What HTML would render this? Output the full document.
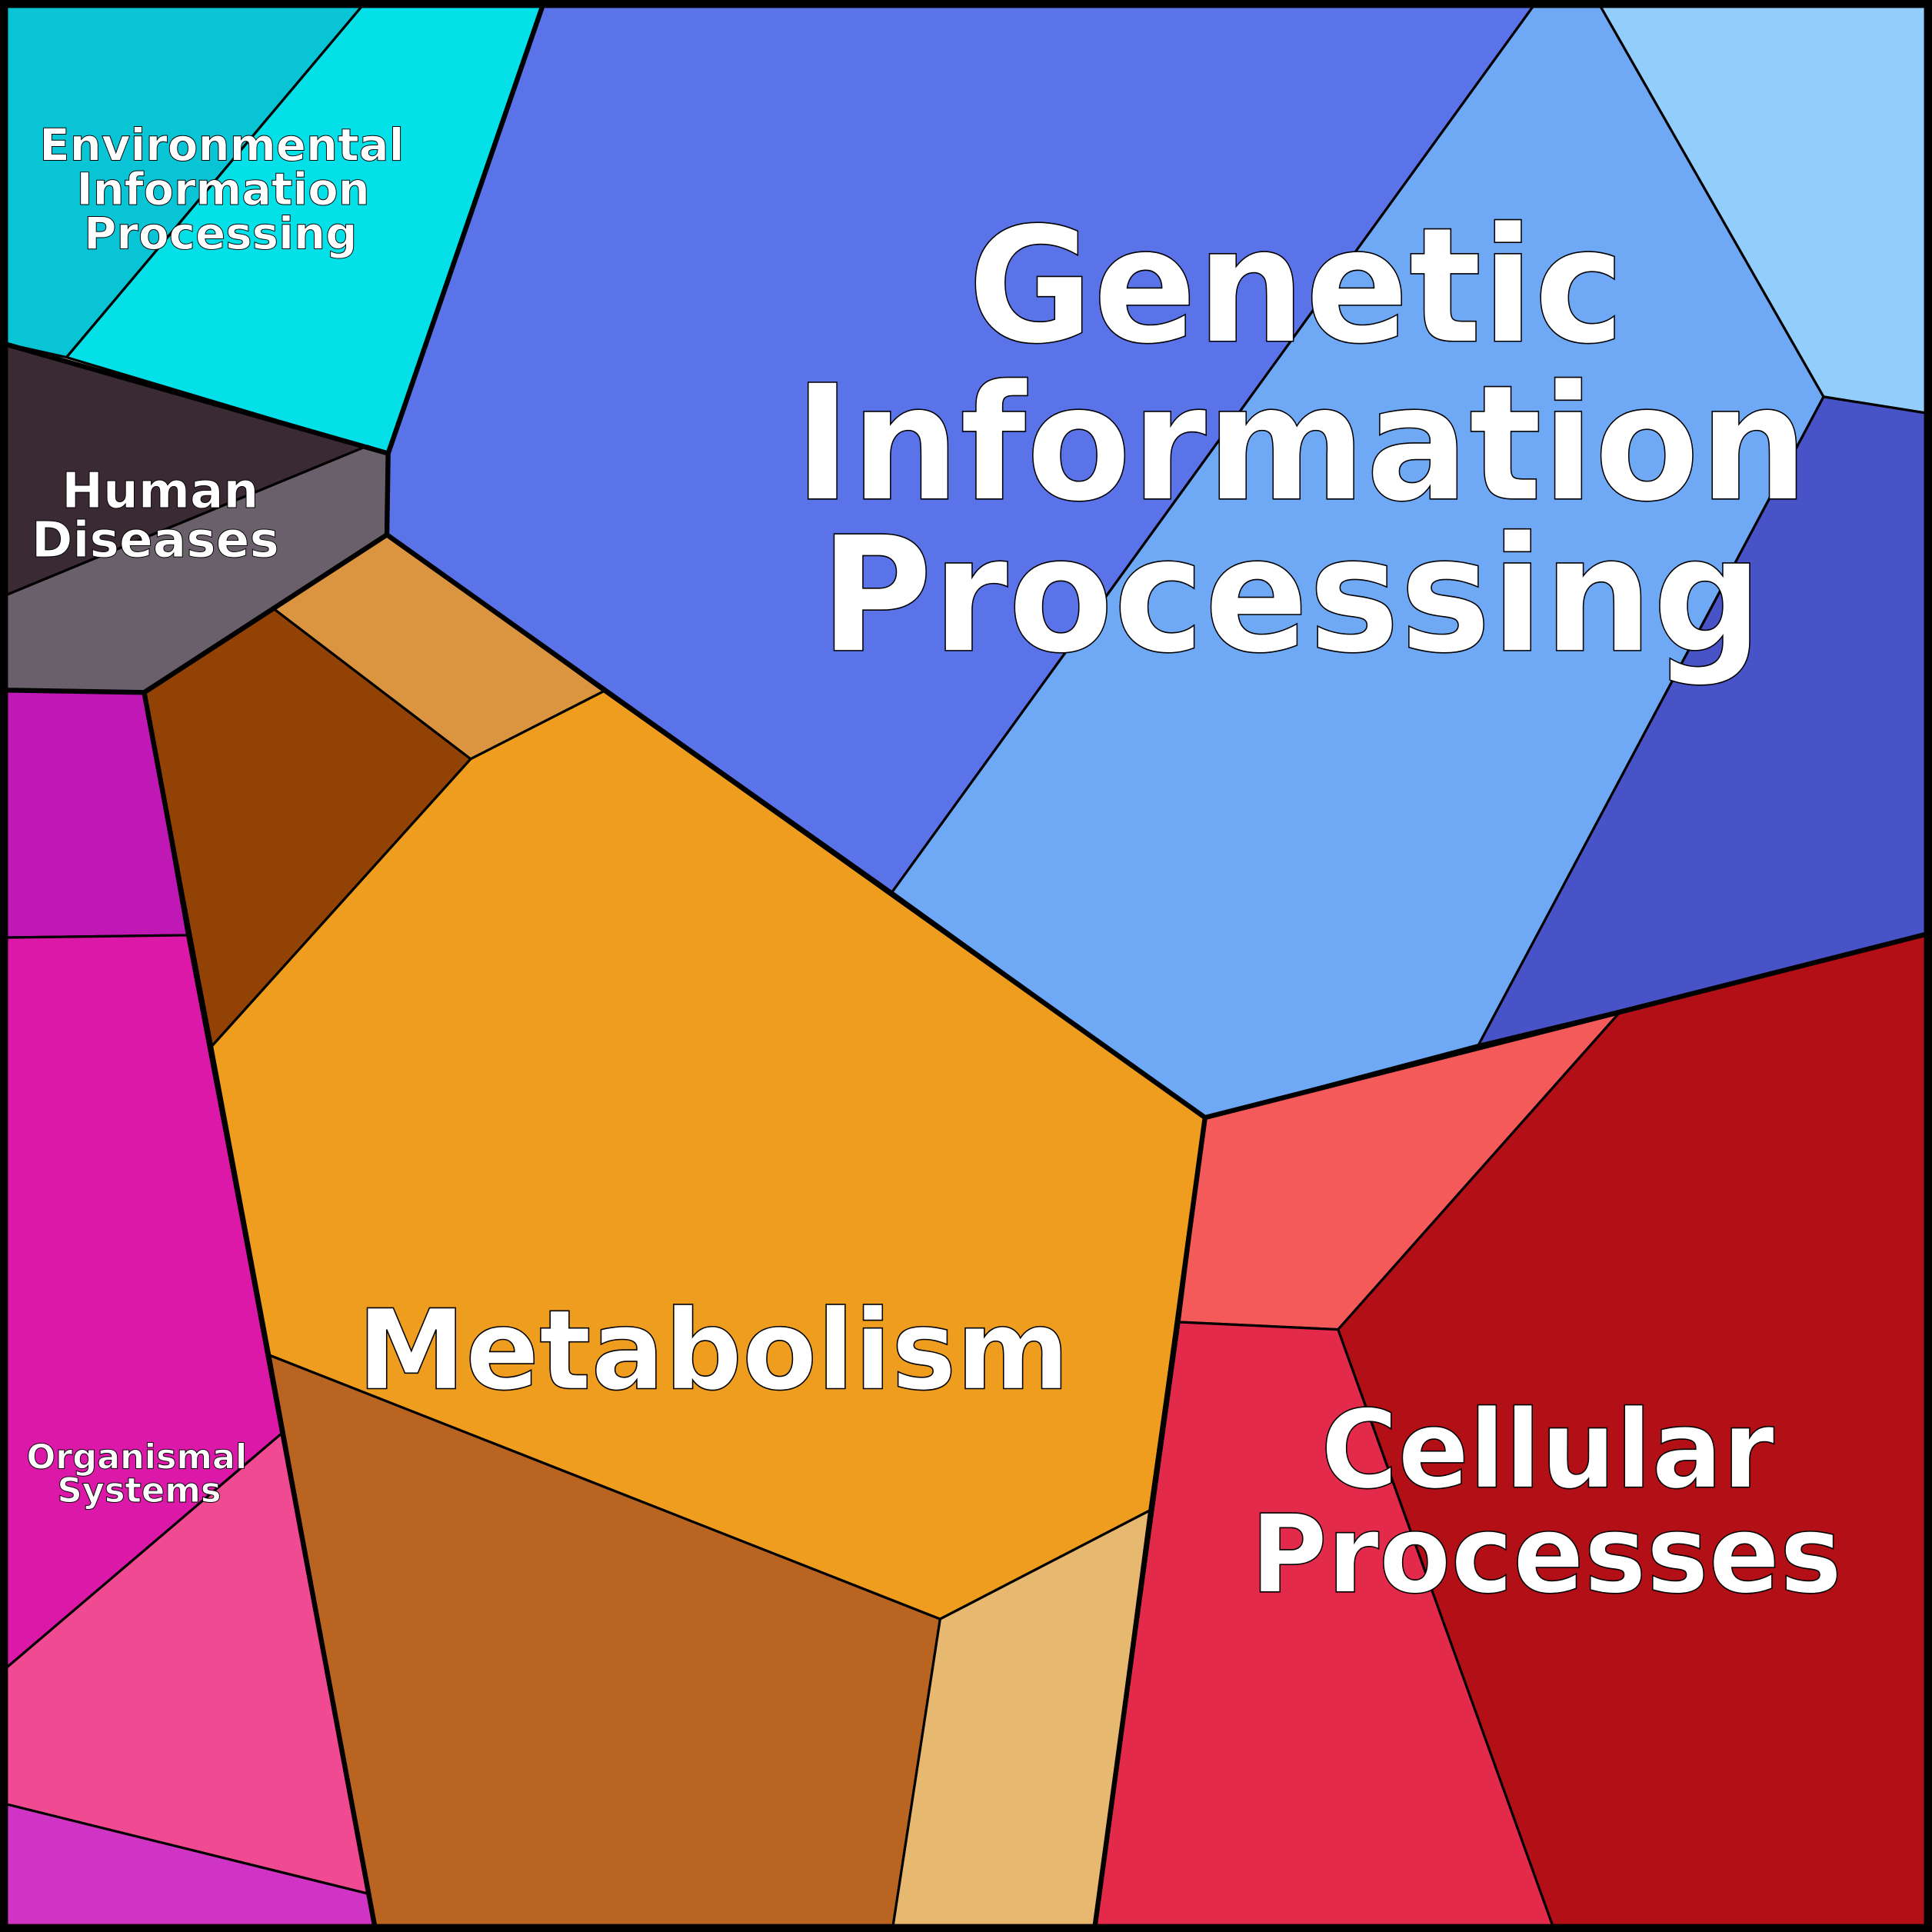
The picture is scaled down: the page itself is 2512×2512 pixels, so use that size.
<!DOCTYPE html>
<html><head><meta charset="utf-8"><style>html,body{margin:0;padding:0;background:#fff}svg{display:block}</style></head>
<body>
<svg xmlns="http://www.w3.org/2000/svg" width="2512" height="2512" viewBox="0 0 1568 1568">
<g stroke="#000" stroke-width="2" stroke-linejoin="round">
<!-- Environmental -->
<polygon fill="#08C4D4" points="0,0 298,0 54,290 0,278"/>
<polygon fill="#03E0E8" points="298,0 442,0 315,368 54,290"/>
<!-- Human diseases -->
<polygon fill="#3A2A33" points="0,278 315,368 298,362 0,485"/>
<polygon fill="#6A606B" points="0,485 298,362 315,368 314,434 117,562 0,560"/>
<!-- Genetic -->
<polygon fill="#5A73E8" points="442,0 1248,0 724,724 314,434 315,368"/>
<polygon fill="#6FA8F5" points="1248,0 1296,0 1480,322 1200,848 978,907 724,724"/>
<polygon fill="#93CDFB" points="1296,0 1568,0 1568,336 1480,322"/>
<polygon fill="#4953C8" points="1480,322 1568,336 1568,757 1316,820 1200,848"/>
<!-- Metabolism -->
<polygon fill="#DB9440" points="314,434 490,561 382,616 222,494"/>
<polygon fill="#934205" points="222,494 382,616 172,849 117,562"/>
<polygon fill="#EE9D1F" points="382,616 490,561 978,907 933,1226 763,1314 219,1100 172,849"/>
<polygon fill="#BA6421" points="219,1100 763,1314 724,1568 305,1568"/>
<polygon fill="#E7B870" points="763,1314 933,1226 888,1568 724,1568"/>
<!-- Organismal -->
<polygon fill="#C018B4" points="0,560 117,562 152,759 0,761"/>
<polygon fill="#DC18A8" points="0,761 152,759 229,1163 0,1358"/>
<polygon fill="#F04A93" points="0,1358 229,1163 299,1537 0,1463"/>
<polygon fill="#D034C4" points="0,1463 299,1537 305,1568 0,1568"/>
<!-- Cellular -->
<polygon fill="#F45A5A" points="978,907 1316,820 1086,1079 957,1073"/>
<polygon fill="#E42A4A" points="957,1073 1086,1079 1262,1568 888,1568"/>
<polygon fill="#B30F17" points="1316,820 1568,757 1568,1568 1262,1568 1086,1079"/>
</g>
<g fill="none" stroke="#000" stroke-width="4" stroke-linejoin="round">
<polyline points="0,278 315,368 314,434 117,562 0,560"/>
<polyline points="315,368 442,0"/>
<polyline points="314,434 978,907 1568,757"/>
<polyline points="978,907 888,1568"/>
<polyline points="117,562 305,1568"/>
<rect x="3" y="3" width="1562" height="1562" stroke-width="7"/>
</g>
<g font-family="'DejaVu Sans','Liberation Sans',sans-serif" font-weight="bold" fill="#fff" stroke="#000" stroke-width="1" text-anchor="middle" lengthAdjust="spacingAndGlyphs">
<text x="1052" y="277" font-size="130" textLength="533" lengthAdjust="spacingAndGlyphs">Genetic</text>
<text x="1056" y="405" font-size="130" textLength="823" lengthAdjust="spacingAndGlyphs">Information</text>
<text x="1048" y="528" font-size="130" textLength="765" lengthAdjust="spacingAndGlyphs">Processing</text>
<text x="579" y="1127" font-size="90" textLength="578" lengthAdjust="spacingAndGlyphs">Metabolism</text>
<text x="1256" y="1207" font-size="88" textLength="368" lengthAdjust="spacingAndGlyphs">Cellular</text>
<text x="1255" y="1292" font-size="88" textLength="480" lengthAdjust="spacingAndGlyphs">Processes</text>
<g stroke-width="0.6">
<text x="180" y="130" font-size="36" textLength="296" lengthAdjust="spacingAndGlyphs">Environmental</text>
<text x="181" y="166" font-size="36" textLength="238" lengthAdjust="spacingAndGlyphs">Information</text>
<text x="179" y="202" font-size="36" textLength="222" lengthAdjust="spacingAndGlyphs">Processing</text>
<text x="130" y="412" font-size="40" textLength="160" lengthAdjust="spacingAndGlyphs">Human</text>
<text x="126" y="452" font-size="40" textLength="201" lengthAdjust="spacingAndGlyphs">Diseases</text>
<text x="111" y="1192" font-size="28" textLength="179" lengthAdjust="spacingAndGlyphs">Organismal</text>
<text x="113" y="1219" font-size="28" textLength="133" lengthAdjust="spacingAndGlyphs">Systems</text>
</g>
</g>
</svg>
</body></html>
